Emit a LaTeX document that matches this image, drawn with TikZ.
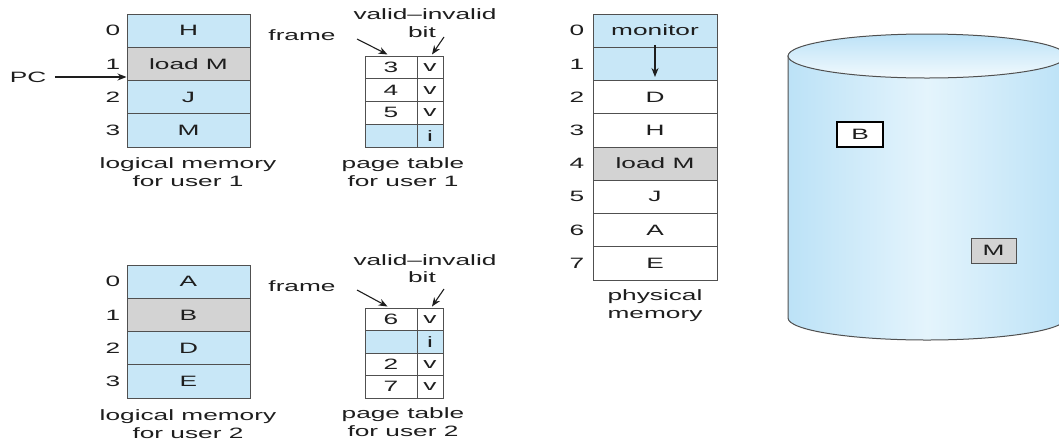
\documentclass[tikz,border=0pt]{standalone}
\usepackage{fontspec}
\setmainfont[FakeStretch=1.75]{Liberation Sans}
\usetikzlibrary{arrows.meta}
\definecolor{cellblue}{RGB}{200,231,247}
\definecolor{cellgray}{RGB}{211,211,211}
\definecolor{linegray}{RGB}{80,80,80}
\definecolor{txt}{RGB}{30,30,30}
\definecolor{cylside}{RGB}{188,226,247}
\definecolor{cylmid}{RGB}{228,244,252}
\begin{document}
\begin{tikzpicture}[x=1pt,y=-1pt,
  every node/.style={font=\fontsize{15}{18}\selectfont, text=txt},
  lmcell/.style={draw=linegray, line width=1pt, minimum width=123pt, minimum height=33.25pt, inner sep=0pt},
  fcell/.style={draw=linegray, line width=1pt, minimum width=52pt, minimum height=#1, inner sep=0pt},
  vcell/.style={draw=linegray, line width=1pt, minimum width=26pt, minimum height=#1, inner sep=0pt},
  arr/.style={-{Stealth[length=9pt,width=7pt]}, line width=1.1pt, draw=txt},
  caption/.style={align=center},
  diskbox/.style={line width=1pt, minimum width=45pt, minimum height=25pt, inner sep=0pt}]
\path[use as bounding box] (0,0) rectangle (1059,440);
% disk
\begin{scope}
\clip (0,0) rectangle (1059,440);
\path[left color=cylside, right color=cylside, middle color=cylmid, draw=linegray, line width=1pt]
  (788,56) -- (788,318) arc[start angle=180, end angle=0, x radius=139, y radius=22] -- (1066,56) -- cycle;
\path[draw=linegray, top color=cylside, bottom color=cylmid!50!white, line width=1pt]
  (927,56) ellipse[x radius=139, y radius=22];
\end{scope}
\node[diskbox, draw=black, line width=1.8pt, fill=white, minimum width=46pt] (diskB) at (860,134.5) {B};
\node[diskbox, draw=linegray, fill=cellgray] (diskM) at (993.5,250.5) {M};
% logical memory user 1
\foreach \i/\t/\f in {0/H/cellblue,1/load M/cellgray,2/J/cellblue,3/M/cellblue}{
  \node[lmcell, fill=\f] (lmA\i) at (188.5,{14+33.25*(\i+0.5)}) {\t};
  \node (lmAi\i) at (113,{14+33.25*(\i+0.5)}) {\i};
}
\node[caption] (capLA) at (188,172) {logical memory\\for user 1};
\node (pc) at (28,77) {PC};
\draw[arr, shorten <=5pt] (pc.east) -- (pc.east -| lmA1.west);
% page table user 1
\foreach \i/\t/\v/\f in {0/3/v/white,1/4/v/white,2/5/v/white,3//i/cellblue}{
  \node[fcell=22.75pt, fill=\f] (ptAf\i) at (391,{56+22.75*(\i+0.5)}) {\t};
  \node[vcell=22.75pt, fill=\f] (ptAv\i) at (430,{56+22.75*(\i+0.5)}) {\v};
}
\node (frA) at (302,35) {frame};
\node (viA) at (425,14) {valid--invalid};
\node (bitA) at (422,32) {bit};
\coordinate (frAs) at (357,39);
\coordinate (bitAs) at (444,37);
\draw[arr] (frAs) -- ([xshift=-30pt,yshift=1pt]ptAf0.north east);
\draw[arr] (bitAs) -- ([xshift=2pt,yshift=1pt]ptAv0.north);
\node[caption] (capPA) at (403,172) {page table\\for user 1};
% logical memory user 2
\foreach \i/\t/\f in {0/A/cellblue,1/B/cellgray,2/D/cellblue,3/E/cellblue}{
  \node[lmcell, fill=\f] (lmB\i) at (188.5,{265+33.25*(\i+0.5)}) {\t};
  \node (lmBi\i) at (113,{265+33.25*(\i+0.5)}) {\i};
}
\node[caption] (capLB) at (188,424) {logical memory\\for user 2};
% page table user 2
\foreach \i/\t/\v/\f in {0/6/v/white,1//i/cellblue,2/2/v/white,3/7/v/white}{
  \node[fcell=22.5pt, fill=\f] (ptBf\i) at (391,{308+22.5*(\i+0.5)}) {\t};
  \node[vcell=22.5pt, fill=\f] (ptBv\i) at (430,{308+22.5*(\i+0.5)}) {\v};
}
\node (frB) at (302,286) {frame};
\node (viB) at (425,260) {valid--invalid};
\node (bitB) at (422,277) {bit};
\coordinate (frBs) at (357,290);
\coordinate (bitBs) at (444,289);
\draw[arr] (frBs) -- ([xshift=-30pt,yshift=1pt]ptBf0.north east);
\draw[arr] (bitBs) -- ([xshift=2pt,yshift=1pt]ptBv0.north);
\node[caption] (capPB) at (403,422.5) {page table\\for user 2};
% physical memory
\foreach \i/\t/\f in {0/monitor/cellblue,1//cellblue,2/D/white,3/H/white,4/load M/cellgray,5/J/white,6/A/white,7/E/white}{
  \node[lmcell, minimum width=124pt, fill=\f] (pm\i) at (655,{14+33.25*(\i+0.5)}) {\t};
  \node (pmi\i) at (577,{14+33.25*(\i+0.5)}) {\i};
}
\draw[arr] ([yshift=3pt]pm0.south) -- ([yshift=4pt]pm1.south);
\node[caption] (capPM) at (655,305.5) {physical\\memory};
\end{tikzpicture}
\end{document}
